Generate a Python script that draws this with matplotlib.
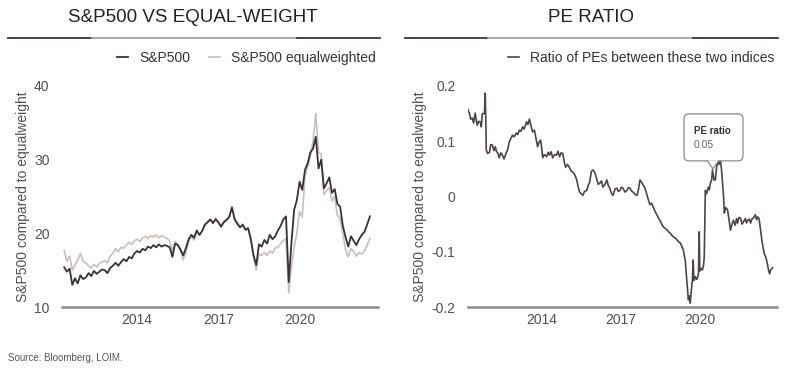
import numpy as np
import matplotlib
matplotlib.use("Agg")
import matplotlib.pyplot as plt
from matplotlib.patches import FancyBboxPatch, Polygon
from matplotlib.lines import Line2D
from matplotlib.transforms import ScaledTranslation

plt.rcParams['font.family'] = ['Liberation Sans', 'DejaVu Sans']

# ---- left panel: S&P500 vs equal weight (PE levels) ----
years = [2011.3 + 0.1 * i for i in range(114)]
spx = [15.4, 14.8, 15.2, 13.0, 13.9, 13.2, 14.3, 13.8, 14.0, 14.6,
       14.2, 14.9, 14.5, 14.8, 15.1, 15.0, 14.6, 15.3, 15.6, 16.0,
       15.6, 16.1, 16.5, 16.2, 16.8, 16.6, 17.3, 17.6, 17.4, 17.9,
       17.7, 18.2, 18.0, 18.4, 18.1, 18.5, 18.2, 18.4, 18.3, 18.1,
       16.8, 18.6, 18.4, 17.8, 17.0, 18.0, 19.2, 19.8, 19.4, 20.4,
       19.8, 20.3, 21.2, 21.5, 21.9, 21.4, 21.9, 21.5, 20.9, 21.5,
       21.8, 22.2, 23.5, 21.9, 21.3, 20.8, 21.2, 20.5, 20.7, 19.2,
       17.0, 15.7, 18.5, 18.2, 19.1, 18.6, 19.8, 19.2, 19.6, 20.4,
       21.0, 21.9, 22.3, 13.4, 18.7, 23.2, 24.5, 27.0, 25.9, 28.6,
       29.5, 31.0, 31.5, 33.1, 28.8, 30.0, 26.1, 26.8, 27.6, 25.5,
       26.0, 24.0, 23.6, 21.0, 19.5, 18.2, 19.6, 19.0, 18.4, 19.2,
       19.8, 20.2, 21.2, 22.3]
eqw = [17.7, 16.2, 16.9, 15.0, 15.7, 16.4, 17.3, 16.2, 16.0, 15.6,
       15.3, 15.8, 15.4, 15.9, 16.1, 16.3, 16.0, 16.9, 17.3, 17.9,
       17.5, 18.1, 18.0, 18.4, 18.8, 18.5, 19.0, 19.2, 18.9, 19.4,
       19.6, 19.3, 19.7, 19.5, 19.8, 19.4, 19.7, 19.5, 19.3, 19.0,
       17.6, 18.9, 18.5, 17.6, 16.4, 17.4, 18.9, 19.6, 19.1, 20.2,
       19.7, 20.4, 21.0, 21.6, 21.8, 21.3, 22.1, 21.4, 21.0, 21.6,
       21.9, 22.3, 23.7, 22.0, 21.5, 20.9, 21.0, 20.4, 20.6, 19.0,
       16.8, 15.0, 17.2, 17.0, 17.4, 17.0, 17.6, 17.3, 18.0, 18.1,
       18.6, 19.0, 19.3, 11.9, 15.4, 18.1, 20.0, 23.0, 22.2, 27.8,
       29.0, 30.5, 32.5, 36.3, 31.0, 30.8, 25.3, 25.8, 26.2, 24.4,
       25.0, 22.4, 22.0, 20.0, 17.8, 16.8, 17.9, 17.5, 16.9, 17.4,
       17.2, 17.6, 18.4, 19.3]

# ---- right panel: ratio of PEs ----
pe_years = [2011.19, 2011.23, 2011.27, 2011.32, 2011.38, 2011.43, 2011.49, 2011.53, 2011.57, 2011.62,
            2011.68, 2011.72, 2011.76, 2011.84, 2011.87, 2011.90, 2011.91, 2011.96, 2012.03, 2012.08,
            2012.14, 2012.20, 2012.25, 2012.29, 2012.35, 2012.40, 2012.46, 2012.52, 2012.58, 2012.67,
            2012.72, 2012.78, 2012.84, 2012.90, 2012.96, 2013.05, 2013.10, 2013.16, 2013.22, 2013.28,
            2013.34, 2013.43, 2013.48, 2013.54, 2013.60, 2013.66, 2013.73, 2013.79, 2013.85, 2013.90,
            2013.96, 2014.00, 2014.04, 2014.10, 2014.19, 2014.25, 2014.30, 2014.36, 2014.42, 2014.50,
            2014.57, 2014.62, 2014.68, 2014.74, 2014.80, 2014.86, 2014.91, 2014.98, 2015.06, 2015.12,
            2015.18, 2015.25, 2015.33, 2015.38, 2015.44, 2015.50, 2015.56, 2015.62, 2015.71, 2015.76,
            2015.82, 2015.88, 2015.94, 2016.01, 2016.09, 2016.14, 2016.20, 2016.26, 2016.32, 2016.40,
            2016.47, 2016.52, 2016.58, 2016.64, 2016.70, 2016.78, 2016.85, 2016.90, 2016.96, 2017.02,
            2017.08, 2017.15, 2017.23, 2017.28, 2017.34, 2017.40, 2017.46, 2017.53, 2017.61, 2017.66,
            2017.72, 2017.78, 2017.84, 2017.91, 2017.99, 2018.05, 2018.10, 2018.16, 2018.22, 2018.30,
            2018.37, 2018.43, 2018.48, 2018.54, 2018.60, 2018.66, 2018.75, 2018.80, 2018.86, 2018.92,
            2018.98, 2019.05, 2019.13, 2019.18, 2019.24, 2019.30, 2019.36, 2019.40, 2019.43, 2019.47,
            2019.51, 2019.55, 2019.59, 2019.62, 2019.66, 2019.70, 2019.73, 2019.76, 2019.81, 2019.86,
            2019.89, 2019.93, 2019.96, 2019.98, 2020.04, 2020.08, 2020.12, 2020.15, 2020.19, 2020.24,
            2020.30, 2020.34, 2020.38, 2020.43, 2020.46, 2020.52, 2020.57, 2020.62, 2020.65, 2020.70,
            2020.76, 2020.80, 2020.84, 2020.88, 2020.91, 2020.96, 2021.03, 2021.08, 2021.14, 2021.20,
            2021.25, 2021.32, 2021.37, 2021.41, 2021.46, 2021.52, 2021.58, 2021.63, 2021.70, 2021.75,
            2021.79, 2021.85, 2021.90, 2021.96, 2022.01, 2022.08, 2022.13, 2022.17, 2022.22, 2022.28,
            2022.33, 2022.39, 2022.43, 2022.47, 2022.52, 2022.58, 2022.62, 2022.66, 2022.70, 2022.73]
pe_ratio = [0.160, 0.155, 0.151, 0.140, 0.142, 0.133, 0.151, 0.138, 0.129, 0.136,
            0.135, 0.126, 0.150, 0.150, 0.187, 0.120, 0.084, 0.078, 0.080, 0.094,
            0.093, 0.083, 0.090, 0.082, 0.078, 0.070, 0.079, 0.075, 0.068, 0.080,
            0.085, 0.099, 0.105, 0.111, 0.108, 0.115, 0.112, 0.120, 0.118, 0.126,
            0.122, 0.135, 0.130, 0.140, 0.128, 0.117, 0.120, 0.105, 0.090, 0.098,
            0.102, 0.090, 0.070, 0.076, 0.072, 0.080, 0.075, 0.081, 0.070, 0.076,
            0.075, 0.082, 0.072, 0.079, 0.078, 0.062, 0.053, 0.058, 0.052, 0.046,
            0.044, 0.040, 0.030, 0.018, 0.008, 0.005, 0.002, 0.009, 0.011, 0.020,
            0.026, 0.045, 0.048, 0.044, 0.030, 0.022, 0.024, 0.028, 0.017, 0.022,
            0.030, 0.020, 0.015, 0.006, 0.002, 0.014, 0.015, 0.009, 0.011, 0.017,
            0.015, 0.008, 0.011, 0.016, 0.015, 0.010, 0.008, 0.004, 0.002, 0.012,
            0.030, 0.026, 0.021, 0.015, 0.002, -0.008, -0.015, -0.012, -0.019, -0.028,
            -0.034, -0.040, -0.043, -0.050, -0.055, -0.057, -0.061, -0.064, -0.066, -0.070,
            -0.073, -0.075, -0.079, -0.082, -0.084, -0.090, -0.097, -0.108, -0.115, -0.140,
            -0.164, -0.187, -0.180, -0.193, -0.170, -0.151, -0.115, -0.152, -0.145, -0.150,
            -0.148, -0.140, -0.064, -0.135, -0.130, -0.133, -0.125, -0.110, 0.011, 0.005,
            0.017, 0.012, 0.024, 0.030, 0.048, 0.030, 0.030, 0.055, 0.062, 0.058,
            0.066, 0.050, 0.026, 0.000, -0.030, -0.020, -0.024, -0.040, -0.061, -0.050,
            -0.043, -0.052, -0.040, -0.048, -0.038, -0.039, -0.050, -0.046, -0.040, -0.048,
            -0.043, -0.041, -0.048, -0.040, -0.039, -0.033, -0.042, -0.037, -0.040, -0.061,
            -0.080, -0.097, -0.105, -0.109, -0.118, -0.133, -0.140, -0.133, -0.131, -0.129]

tip_year, tip_val = 2020.48, 0.05
tip_label = "0.05"

year_ticks = [2014, 2017, 2020]
dark = '#3a3132'
light = '#c9bebe'
txt = '#505050'

fig = plt.figure(figsize=(7.89, 3.76), dpi=100)
ax1 = fig.add_axes([0.0786, 0.1835, 0.4005, 0.5878])
ax2 = fig.add_axes([0.5932, 0.1835, 0.3916, 0.5878])

ax1.plot(years, eqw, color=light, lw=1.2, label='S&P500 equalweighted', zorder=2)
ax1.plot(years, spx, color=dark, lw=1.3, label='S&P500', zorder=3)
ax1.set_ylim(10, 40)
ax1.set_yticks([10, 20, 30, 40])

ax2.plot(pe_years, pe_ratio, color='#4d4646', lw=1.2, label='Ratio of PEs between these two indices')
ax2.set_ylim(-0.2, 0.2)
ax2.set_yticks([-0.2, -0.1, 0, 0.1, 0.2])
ax2.set_yticklabels(['-0.2', '-0.1', '0', '0.1', '0.2'])

for ax in (ax1, ax2):
    ax.set_xlim(2011.22, 2022.9)
    ax.set_xticks(year_ticks)
    ax.set_xticklabels([str(y) for y in year_ticks])
    for s in ('top', 'right', 'left'):
        ax.spines[s].set_visible(False)
    ax.spines['bottom'].set_color('#8c8c8c')
    ax.spines['bottom'].set_linewidth(1.8)
    ax.tick_params(axis='both', length=0, labelsize=10, labelcolor=txt)
    ax.tick_params(axis='y', pad=9)
    ax.tick_params(axis='x', pad=4)
    ax.set_ylabel('S&P500 compared to equalweight', fontsize=10, color=txt, labelpad=3)

h, l = ax1.get_legend_handles_labels()
ax1.legend(h[::-1], l[::-1], loc='lower right', bbox_to_anchor=(1.01, 1.07), ncol=2, frameon=False,
           fontsize=10, handlelength=0.8, handletextpad=0.8, columnspacing=1.3, labelcolor='#333333',
           borderaxespad=0)
ax2.legend(loc='lower right', bbox_to_anchor=(1.01, 1.07), frameon=False, fontsize=10,
           handlelength=0.8, handletextpad=0.8, labelcolor='#333333', borderaxespad=0)

# titles and rules
fig.text(0.245, 1 - 18 / 376, 'S&P500 VS EQUAL-WEIGHT', ha='center', va='center', fontsize=13.5, color='#222222')
fig.text(0.749, 1 - 18 / 376, 'PE RATIO', ha='center', va='center', fontsize=13.5, color='#222222')
ry = 1 - 38 / 376
for x0, x1, c in [(8, 92, '#3d3535'), (92, 297, '#a9a0a0'), (297, 380, '#3d3535'),
                  (405, 488, '#3d3535'), (488, 693, '#a9a0a0'), (693, 778, '#3d3535')]:
    fig.add_artist(Line2D([x0 / 789, x1 / 789], [ry, ry], color=c, lw=1.3))

fig.text(8 / 789, 1 - 358 / 376, 'Source: Bloomberg, LOIM.', fontsize=7, color='#555555', va='center')

# tooltip on the PE ratio
tr = fig.dpi_scale_trans + ScaledTranslation(tip_year, tip_val, ax2.transData)
box = FancyBboxPatch((-0.26, 0.11), 0.53, 0.41, boxstyle='round,pad=0.03,rounding_size=0.05',
                     fc='white', ec='#8a8a8a', lw=0.9, transform=tr, zorder=5, clip_on=False)
ax2.add_patch(box)
ax2.add_patch(Polygon([(-0.055, 0.085), (0, 0.0), (0.055, 0.085)], closed=True, fc='white', ec='none',
                      transform=tr, zorder=6, clip_on=False))
ax2.add_line(Line2D([-0.055, 0, 0.055], [0.08, 0.0, 0.08], color='#8a8a8a', lw=0.9, transform=tr,
                    zorder=7, clip_on=False))
ax2.text(-0.19, 0.38, 'PE ratio', transform=tr, fontsize=7, fontweight='bold', color='#333333',
         va='center', zorder=8)
ax2.text(-0.19, 0.24, tip_label, transform=tr, fontsize=7.5, color='#666666', va='center', zorder=8)

fig.savefig('out.png', dpi=100)
